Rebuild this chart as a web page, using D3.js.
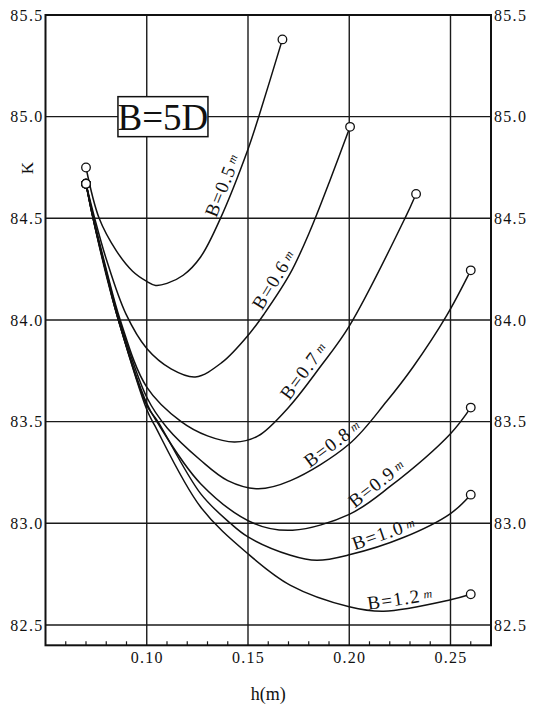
<!DOCTYPE html>
<html>
<head>
<meta charset="utf-8">
<script src="https://cdn.jsdelivr.net/npm/d3@7"></script>
<style>
  body { margin: 0; background: #fff; }
  svg text { font-family: "Liberation Serif", "Times New Roman", Times, serif; fill: #111; }
</style>
</head>
<body>
<div id="chart"></div>
<script>
// axis ticks
const hTicks = [0.10, 0.15, 0.20, 0.25];
const hMinor = [0.06, 0.07, 0.08, 0.09, 0.11, 0.12, 0.13, 0.14, 0.16, 0.17, 0.18, 0.19, 0.21, 0.22, 0.23, 0.24, 0.26];
const kTicks = [82.5, 83.0, 83.5, 84.0, 84.5, 85.0, 85.5];

// curves: h (m) and K
const seriesNames = ['B=0.5', 'B=0.6', 'B=0.7', 'B=0.8', 'B=0.9', 'B=1.0', 'B=1.2'];
const hB05 = [0.070, 0.0765, 0.085, 0.093, 0.100, 0.1044, 0.110, 0.118, 0.1266, 0.1364, 0.150, 0.1553, 0.167];
const kB05 = [84.75, 84.50, 84.34, 84.24, 84.19, 84.17, 84.18, 84.22, 84.31, 84.50, 84.84, 85.00, 85.38];
const hB06 = [0.070, 0.0743, 0.080, 0.0897, 0.100, 0.112, 0.124, 0.137, 0.1505, 0.158, 0.1709, 0.1807, 0.1906, 0.2004];
const kB06 = [84.67, 84.50, 84.30, 84.03, 83.86, 83.76, 83.72, 83.79, 83.93, 84.03, 84.23, 84.44, 84.69, 84.95];
const hB07 = [0.070, 0.0738, 0.080, 0.0869, 0.100, 0.117, 0.130, 0.1435, 0.155, 0.170, 0.1857, 0.200, 0.2275, 0.233];
const kB07 = [84.67, 84.50, 84.25, 84.00, 83.67, 83.50, 83.43, 83.40, 83.43, 83.57, 83.77, 83.97, 84.50, 84.62];
const hB08 = [0.070, 0.0736, 0.080, 0.0865, 0.100, 0.110, 0.1266, 0.140, 0.155, 0.171, 0.200, 0.2185, 0.2316, 0.248, 0.260];
const kB08 = [84.67, 84.50, 84.24, 84.00, 83.62, 83.47, 83.31, 83.21, 83.17, 83.21, 83.39, 83.60, 83.77, 84.02, 84.244];
const hB09 = [0.070, 0.0735, 0.080, 0.086, 0.100, 0.105, 0.1266, 0.1528, 0.172, 0.200, 0.220, 0.250, 0.260];
const kB09 = [84.67, 84.50, 84.23, 84.00, 83.59, 83.50, 83.195, 83.00, 82.966, 83.044, 83.18, 83.441, 83.569];
const hB10 = [0.070, 0.0735, 0.080, 0.086, 0.100, 0.1055, 0.1266, 0.1413, 0.150, 0.171, 0.184, 0.200, 0.2267, 0.250, 0.260];
const kB10 = [84.67, 84.50, 84.23, 84.00, 83.58, 83.50, 83.146, 83.00, 82.933, 82.843, 82.818, 82.845, 82.93, 83.048, 83.141];
const hB12 = [0.070, 0.0735, 0.080, 0.086, 0.100, 0.104, 0.1266, 0.150, 0.171, 0.200, 0.217, 0.250, 0.260];
const kB12 = [84.67, 84.50, 84.22, 84.00, 83.56, 83.48, 83.08, 82.85, 82.695, 82.59, 82.568, 82.624, 82.651];
// h where each curve carries its label
const labelH = [0.1425, 0.1675, 0.182, 0.195, 0.217, 0.219, 0.226];

const hSeries = [hB05, hB06, hB07, hB08, hB09, hB10, hB12];
const kSeries = [kB05, kB06, kB07, kB08, kB09, kB10, kB12];

const svgWidth = 543, svgHeight = 708;
const plot = { left: 45.5, right: 491, top: 15, bottom: 645.3 };
const serif = '"Liberation Serif", "Times New Roman", Times, serif';

const svg = d3.select('#chart')
  .append('svg')
  .attr('width', svgWidth)
  .attr('height', svgHeight);

svg.append('rect').attr('width', svgWidth).attr('height', svgHeight).attr('fill', '#fff');

const x = d3.scaleLinear().domain([0.05, 0.27]).range([plot.left, plot.right]);
const y = d3.scaleLinear().domain([82.4, 85.5]).range([plot.bottom, plot.top]);

// grid
svg.append('g').selectAll('line')
  .data(hTicks)
  .enter().append('line')
  .attr('x1', d => x(d)).attr('x2', d => x(d))
  .attr('y1', plot.top).attr('y2', plot.bottom)
  .attr('stroke', '#1a1a1a').attr('stroke-width', 1.4);

svg.append('g').selectAll('line')
  .data(kTicks)
  .enter().append('line')
  .attr('x1', plot.left).attr('x2', plot.right)
  .attr('y1', d => y(d)).attr('y2', d => y(d))
  .attr('stroke', '#1a1a1a').attr('stroke-width', 1.4);

// minor ticks on the bottom axis, pointing inward
svg.append('g').selectAll('line')
  .data(hMinor)
  .enter().append('line')
  .attr('x1', d => x(d)).attr('x2', d => x(d))
  .attr('y1', plot.bottom).attr('y2', plot.bottom - 4)
  .attr('stroke', '#1a1a1a').attr('stroke-width', 1.2);

// frame
svg.append('rect')
  .attr('x', plot.left).attr('y', plot.top)
  .attr('width', plot.right - plot.left)
  .attr('height', plot.bottom - plot.top)
  .attr('fill', 'none')
  .attr('stroke', '#111')
  .attr('stroke-width', 2);

// tick labels
function styleAxis(g) {
  g.attr('font-family', serif);
  g.select('.domain').remove();
  g.selectAll('text')
    .style('font-family', serif)
    .attr('font-size', 16)
    .attr('letter-spacing', 1.3)
    .attr('fill', '#111');
}
svg.append('g')
  .attr('transform', `translate(0,${plot.bottom})`)
  .call(d3.axisBottom(x).tickValues(hTicks).tickFormat(d3.format('.2f')).tickSize(0).tickPadding(6.5))
  .call(styleAxis);
svg.append('g')
  .attr('transform', `translate(${plot.left},0)`)
  .call(d3.axisLeft(y).tickValues(kTicks).tickFormat(d3.format('.1f')).tickSize(0).tickPadding(2))
  .call(styleAxis);
svg.append('g')
  .attr('transform', `translate(${plot.right},0)`)
  .call(d3.axisRight(y).tickValues(kTicks).tickFormat(d3.format('.1f')).tickSize(0).tickPadding(3))
  .call(styleAxis);

// axis titles
svg.append('text')
  .attr('x', (plot.left + plot.right) / 2)
  .attr('y', 700)
  .attr('text-anchor', 'middle')
  .attr('font-size', 18)
  .style('font-family', serif)
  .text('h(m)');
svg.append('text')
  .attr('transform', 'translate(33,168) rotate(-90)')
  .attr('text-anchor', 'middle')
  .attr('font-size', 17)
  .style('font-family', serif)
  .text('K');

// B=5D box, centred on the 85.0 grid line
const boxW = 90, boxH = 40;
const box = svg.append('g')
  .attr('transform', `translate(${x(0.108)},${y(85.0)})`);
box.append('rect')
  .attr('x', -boxW / 2).attr('y', -boxH / 2)
  .attr('width', boxW).attr('height', boxH)
  .attr('fill', '#fff')
  .attr('stroke', '#111')
  .attr('stroke-width', 1.5);
box.append('text')
  .attr('text-anchor', 'middle')
  .attr('y', 13)
  .attr('font-size', 37)
  .style('font-family', serif)
  .text('B=5D');

// curves
const line = d3.line()
  .x(d => x(d[0]))
  .y(d => y(d[1]))
  .curve(d3.curveCatmullRom.alpha(0.5));

const curves = seriesNames.map((name, i) => ({
  name,
  pts: hSeries[i].map((h, j) => [h, kSeries[i][j]]),
  labelH: labelH[i]
}));

const paths = svg.append('g').selectAll('path')
  .data(curves)
  .enter().append('path')
  .attr('d', d => line(d.pts))
  .attr('fill', 'none')
  .attr('stroke', '#111')
  .attr('stroke-width', 1.5);

// end markers
const ends = [];
curves.forEach(c => { ends.push(c.pts[0]); ends.push(c.pts[c.pts.length - 1]); });
svg.append('g').selectAll('circle')
  .data(ends)
  .enter().append('circle')
  .attr('cx', d => x(d[0]))
  .attr('cy', d => y(d[1]))
  .attr('r', 4.3)
  .attr('fill', '#fff')
  .attr('stroke', '#111')
  .attr('stroke-width', 1.3);

// labels laid along each curve
function lengthAtX(node, px) {
  let lo = 0, hi = node.getTotalLength();
  for (let k = 0; k < 40; k++) {
    const mid = (lo + hi) / 2;
    if (node.getPointAtLength(mid).x < px) lo = mid; else hi = mid;
  }
  return (lo + hi) / 2;
}

paths.each(function(d) {
  const L = lengthAtX(this, x(d.labelH));
  const p = this.getPointAtLength(L);
  const p1 = this.getPointAtLength(Math.max(0, L - 4));
  const p2 = this.getPointAtLength(L + 4);
  const dx = p2.x - p1.x, dy = p2.y - p1.y;
  const len = Math.hypot(dx, dy);
  const nx = dy / len, ny = -dx / len;
  const ang = Math.atan2(dy, dx) * 180 / Math.PI;
  const off = 4.5;
  const t = svg.append('text')
    .attr('transform', `translate(${p.x + nx * off},${p.y + ny * off}) rotate(${ang})`)
    .attr('text-anchor', 'middle')
    .attr('font-size', 19)
    .attr('letter-spacing', 1.3)
    .style('font-family', serif);
  t.append('tspan').text(d.name);
  t.append('tspan')
    .attr('dx', 3)
    .attr('dy', -3)
    .attr('font-size', 12)
    .attr('font-style', 'italic')
    .text('m');
});
</script>
</body>
</html>
